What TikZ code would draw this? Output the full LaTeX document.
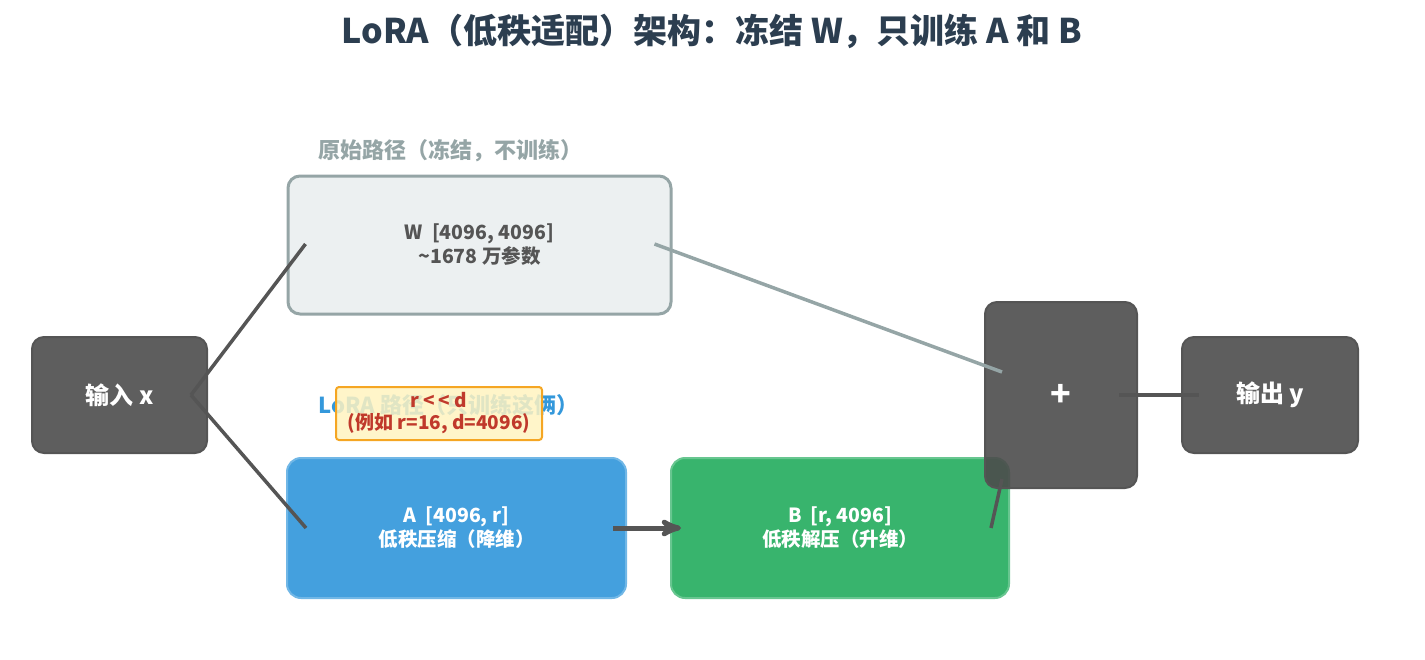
\documentclass[tikz,border=0pt]{standalone}
\usepackage{fontspec}
\setmainfont{Noto Sans CJK SC}
\usepackage{tikz}
\usetikzlibrary{arrows,calc}
\definecolor{titlecol}{HTML}{2C3E50}
\definecolor{darkbox}{HTML}{4C4C4C}
\definecolor{darkline}{HTML}{555555}
\definecolor{frozenfill}{HTML}{ECF0F1}
\definecolor{frozenline}{HTML}{95A5A6}
\definecolor{lorablue}{HTML}{3498DB}
\definecolor{loragreen}{HTML}{27AE60}
\definecolor{notefill}{HTML}{FFF3C0}
\definecolor{noteline}{HTML}{F5A623}
\definecolor{notetext}{HTML}{C0392B}
\begin{document}
\begin{tikzpicture}[x=1pt,y=-1pt,>=stealth',
  darknode/.style={rectangle,rounded corners=12pt,fill=darkbox,fill opacity=.9,text opacity=1,draw=darkline,line width=2pt,
    text=white,font=\bfseries\fontsize{24}{28}\selectfont},
  matnode/.style={rectangle,rounded corners=14pt,align=center,text=white,line width=2pt,
    font=\bfseries\fontsize{19.5}{24}\selectfont},
  pathlabel/.style={anchor=west,font=\bfseries\fontsize{22}{26}\selectfont},
  wire/.style={darkline,line width=3.5pt},
  frozenwire/.style={frozenline,line width=3.5pt}]

  \useasboundingbox (0,0) rectangle (1425,659);

  \node[font=\bfseries\fontsize{34}{38}\selectfont,text=titlecol] (title) at (712,31) {LoRA（低秩适配）架构：冻结 W，只训练 A 和 B};

  \node[pathlabel,text=frozenline] (frozenlbl) at (315,151) {原始路径（冻结，不训练）};
  \node[matnode,minimum width=383,minimum height=138,rounded corners=12pt,fill=frozenfill,draw=frozenline,line width=3pt,text=darkline] (W) at (479.5,245) {W\ \ [4096, 4096]\\\textasciitilde1678 万参数};

  \node[pathlabel,text=lorablue] (loralbl) at (315,405) {LoRA 路径（只训练这俩）};
  \node[rectangle,rounded corners=3pt,minimum width=206,minimum height=53,fill=notefill,fill opacity=.85,text opacity=1,
    draw=noteline,line width=2pt,text=notetext,align=center,font=\bfseries\fontsize{19}{22}\selectfont] (note) at (439,413.5) {r <\,< d\\(例如 r=16, d=4096)};

  \node[matnode,minimum width=339,minimum height=140,fill=lorablue!92,draw=lorablue!70] (A) at (456.5,528) {A\ \ [4096, r]\\低秩压缩（降维）};
  \node[matnode,minimum width=338,minimum height=140,fill=loragreen!92,draw=loragreen!70] (B) at (840,528) {B\ \ [r, 4096]\\低秩解压（升维）};

  \node[darknode,minimum width=175,minimum height=116] (in) at (119.5,395) {输入 x};
  \node[darknode,minimum width=176,minimum height=116] (out) at (1270,395) {输出 y};
  \node[darknode,minimum width=152,minimum height=186,font=\bfseries\fontsize{34}{38}\selectfont] (plus) at (1061,395) {+};

  \draw[wire] ($(in.east)+(-17,0)$) -- ($(W.west)+(19,-1)$);
  \draw[wire] ($(in.east)+(-17,0)$) -- ($(A.west)+(20,0)$);
  \draw[frozenwire] ($(W.east)+(-18,-1)$) -- ($(plus.west)+(18,-23)$);
  \draw[wire,line width=5pt,->] ($(A.east)+(-14,0)$) -- ($(B.west)+(11,0)$);
  \draw[wire] ($(B.east)+(-19,0)$) -- ($(plus.south west)+(18,-10)$);
  \draw[wire] ($(plus.east)+(-19,0)$) -- ($(out.west)+(18,0)$);
\end{tikzpicture}
\end{document}
